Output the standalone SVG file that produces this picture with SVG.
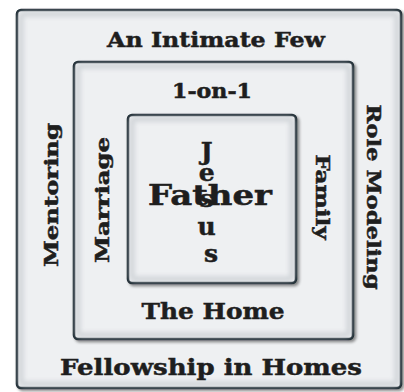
<svg xmlns="http://www.w3.org/2000/svg" width="404" height="392" viewBox="0 0 404 392">
  <defs>
    <filter id="soft" x="-10%" y="-10%" width="120%" height="120%">
      <feGaussianBlur stdDeviation="2.2"/>
    </filter>
    <filter id="shadow" x="-5%" y="-5%" width="112%" height="112%">
      <feGaussianBlur in="SourceAlpha" stdDeviation="1.5"/>
      <feOffset dx="1.5" dy="1.5" result="b"/>
      <feComponentTransfer><feFuncA type="linear" slope="0.45"/></feComponentTransfer>
      <feMerge><feMergeNode/><feMergeNode in="SourceGraphic"/></feMerge>
    </filter>
  </defs>
  <style>
    .box { fill: #eef0f2; stroke: #1c2a31; stroke-width: 2.6; }
    .bevel { fill: none; stroke: #c9cdd2; stroke-width: 6; opacity: 0.7; }
    .t { font-family: "DejaVu Serif", "Liberation Serif", serif; font-weight: bold; fill: #1e1e1e; stroke: #1e1e1e; stroke-width: 0.5; text-anchor: middle; }
  </style>
  <rect width="404" height="392" fill="#ffffff"/>

  <g id="outer">
    <rect class="box" x="17" y="10" width="384" height="378" rx="4" filter="url(#shadow)"/>
    <rect class="bevel" x="21" y="14" width="376" height="370" rx="3" filter="url(#soft)"/>
    <text class="t" x="216" y="47" font-size="21" textLength="218" lengthAdjust="spacingAndGlyphs">An Intimate Few</text>
    <text class="t" x="211" y="375" font-size="23" textLength="302" lengthAdjust="spacingAndGlyphs">Fellowship in Homes</text>
    <text class="t" transform="translate(58,195) rotate(-90)" font-size="19" textLength="144" lengthAdjust="spacingAndGlyphs">Mentoring</text>
    <text class="t" transform="translate(367,197) rotate(90)" font-size="19" textLength="185" lengthAdjust="spacingAndGlyphs">Role Modeling</text>
  </g>

  <g id="middle">
    <rect class="box" x="74" y="62" width="279" height="277" rx="4" filter="url(#shadow)"/>
    <rect class="bevel" x="78" y="66" width="271" height="269" rx="3" filter="url(#soft)"/>
    <text class="t" x="212" y="98" font-size="20" textLength="80" lengthAdjust="spacingAndGlyphs">1-on-1</text>
    <text class="t" x="213" y="319" font-size="23" textLength="143" lengthAdjust="spacingAndGlyphs">The Home</text>
    <text class="t" transform="translate(109,200) rotate(-90)" font-size="19" textLength="126" lengthAdjust="spacingAndGlyphs">Marriage</text>
    <text class="t" transform="translate(316,197) rotate(90)" font-size="18" textLength="85" lengthAdjust="spacingAndGlyphs">Family</text>
  </g>

  <g id="inner">
    <rect class="box" x="128" y="115" width="168" height="168" rx="4" filter="url(#shadow)"/>
    <rect class="bevel" x="132" y="119" width="160" height="160" rx="3" filter="url(#soft)"/>
    <text class="t" x="210" y="205" font-size="27" textLength="124" lengthAdjust="spacingAndGlyphs">Father</text>
    <text class="t" font-size="25">
      <tspan x="211" y="160">J</tspan>
      <tspan x="211" y="181">e</tspan>
      <tspan x="211" y="207">s</tspan>
      <tspan x="211" y="235">u</tspan>
      <tspan x="211" y="262">s</tspan>
    </text>
  </g>

  <g id="connectors"></g>
</svg>
